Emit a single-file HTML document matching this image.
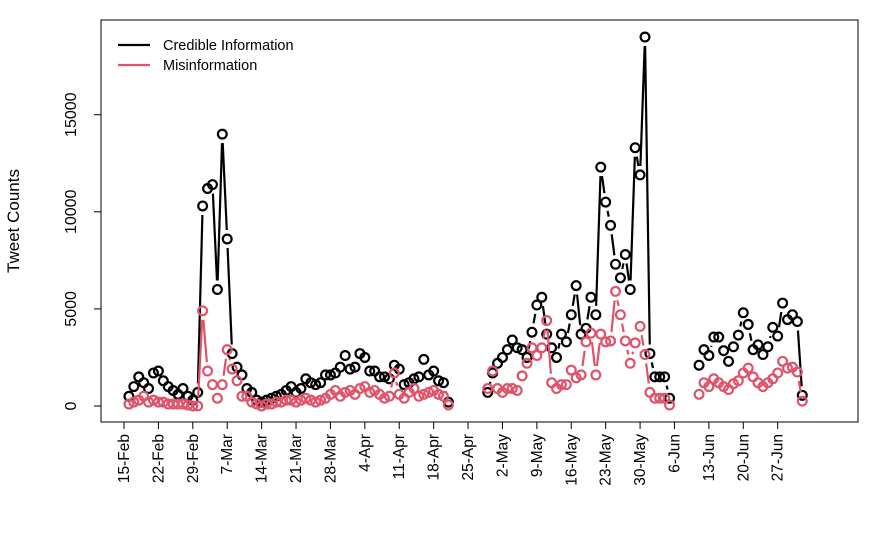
<!DOCTYPE html>
<html><head><meta charset="utf-8">
<style>
html,body{margin:0;padding:0;background:#fff;}
svg{display:block;font-family:"Liberation Sans",Arial,sans-serif;}
</style></head>
<body>
<svg id="chart" width="883" height="550" viewBox="0 0 883 550" xmlns="http://www.w3.org/2000/svg">
<rect x="101" y="20" width="757" height="402" fill="none" stroke="#000" stroke-width="1"/>
<g id="yaxis"></g>
<g id="xaxis"></g>
<text transform="translate(19,221) rotate(-90)" text-anchor="middle" font-size="17">Tweet Counts</text>
<g id="series"></g>
<g>
<g>
<line x1="118" y1="45" x2="150" y2="45" stroke="#000" stroke-width="2.2"/>
<text x="163" y="50" font-size="14.5">Credible Information</text></g>
<g>
<line x1="118" y1="65" x2="150" y2="65" stroke="#DF536B" stroke-width="2.2"/>
<text x="163" y="70" font-size="14.5">Misinformation</text></g>
</g>
</svg>
<script>
// Tick data
const yTicks = [0, 5000, 10000, 15000];
const xTickLabels = ["15-Feb","22-Feb","29-Feb","7-Mar","14-Mar","21-Mar","28-Mar","4-Apr","11-Apr","18-Apr","25-Apr","2-May","9-May","16-May","23-May","30-May","6-Jun","13-Jun","20-Jun","27-Jun"];
const xTickDays = [0,7,14,21,28,35,42,49,56,63,70,77,84,91,98,105,112,119,126,133];
// Segment start days (days since 15-Feb)
const segStarts = [1, 74, 117];
// Credible information series (per segment)
const credible1 = [500,1000,1500,1200,900,1700,1800,1300,1000,800,600,900,500,300,
 700,10300,11200,11400,6000,14000,8600,2700,2000,1600,900,700,300,200,300,400,500,600,800,1000,700,900,1400,1200,1100,1200,1600,1600,1700,2000,2600,
 1900,2000,2700,2500,1800,1800,1500,1500,1400,2100,1900,1100,1200,1400,1500,2400,1600,1800,1300,1200,200];
const credible2 = [700,1700,2200,2500,2900,3400,3000,2900,2500,3800,5200,5600,3700,3000,2500,3700,3300,4700,6200,3700,4000,5600,4700,12300,10500,9300,7300,6600,7800,6000,13300,11900,19000,2700,1500,1500,1500,400];
const credible3 = [2100,2900,2600,3550,3550,2850,2300,3050,3650,4800,4200,2900,3150,2650,3050,4050,3600,5300,4450,4700,4350,550];
// Misinformation series (per segment)
const misinfo1 = [100,200,300,500,200,300,200,200,100,100,100,100,50,0,
 0,4900,1800,1100,400,1100,2900,1900,1300,500,500,200,100,0,100,100,200,200,300,300,200,300,400,300,200,300,400,600,800,500,700,
 800,600,900,1000,700,800,600,400,500,1700,600,400,700,900,500,600,700,800,600,500,50];
const misinfo2 = [900,1800,900,700,900,900,800,1550,2200,3000,2600,3000,4400,1200,900,1100,1100,1850,1450,1600,3300,3750,1600,3700,3300,3350,5900,4700,3350,2200,3250,4100,2650,700,400,400,400,50];
const misinfo3 = [600,1200,1000,1400,1200,1000,850,1150,1300,1700,1950,1500,1200,1000,1200,1400,1700,2300,1950,2000,1750,250];

const NS = "http://www.w3.org/2000/svg";
const xOf = d => 124 + d * 4.915;
const yOf = v => 406 - v * 0.01942;

const ya = document.getElementById('yaxis');
const yl = document.createElementNS(NS,'line');
yl.setAttribute('x1',101);yl.setAttribute('x2',101);
yl.setAttribute('y1',yOf(yTicks[0]));yl.setAttribute('y2',yOf(yTicks[yTicks.length-1]));
yl.setAttribute('stroke','#000');
ya.appendChild(yl);
yTicks.forEach(t => {
  const y = yOf(t);
  const tk = document.createElementNS(NS,'line');
  
  
  tk.setAttribute('x1',94);tk.setAttribute('x2',101);tk.setAttribute('y1',y);tk.setAttribute('y2',y);tk.setAttribute('stroke','#000');
  ya.appendChild(tk);
  const tx = document.createElementNS(NS,'text');
  
  
  tx.setAttribute('transform',`translate(76,${y}) rotate(-90)`);
  tx.setAttribute('text-anchor','middle');tx.setAttribute('font-size','16');
  tx.textContent = t;
  ya.appendChild(tx);
});

const xa = document.getElementById('xaxis');
const xl = document.createElementNS(NS,'line');
xl.setAttribute('x1',xOf(xTickDays[0]));xl.setAttribute('x2',xOf(xTickDays[xTickDays.length-1]));
xl.setAttribute('y1',422);xl.setAttribute('y2',422);xl.setAttribute('stroke','#000');
xa.appendChild(xl);
xTickDays.forEach((d,i) => {
  const x = xOf(d);
  const tk = document.createElementNS(NS,'line');
  
  
  tk.setAttribute('x1',x);tk.setAttribute('x2',x);tk.setAttribute('y1',422);tk.setAttribute('y2',429);tk.setAttribute('stroke','#000');
  xa.appendChild(tk);
  const tx = document.createElementNS(NS,'text');
  
  
  tx.setAttribute('transform',`translate(${x+5},434) rotate(-90)`);
  tx.setAttribute('text-anchor','end');tx.setAttribute('font-size','15.5');
  tx.textContent = xTickLabels[i];
  xa.appendChild(tx);
});

const sg = document.getElementById('series');
function drawSeries(segs, color, name){
  const g = document.createElementNS(NS,'g');
  
  
  sg.appendChild(g);
  segs.forEach((vals, si) => {
    const pts = vals.map((v,i) => [xOf(segStarts[si]+i), yOf(v)]);
    for (let i=0;i<pts.length-1;i++){
      const [x1,y1]=pts[i],[x2,y2]=pts[i+1];
      const dx=x2-x1, dy=y2-y1, L=Math.hypot(dx,dy), gap=9;
      if (L<=2*gap) continue;
      const ux=dx/L, uy=dy/L;
      const ln=document.createElementNS(NS,'line');
      
      
      ln.setAttribute('x1',x1+ux*gap);ln.setAttribute('y1',y1+uy*gap);
      ln.setAttribute('x2',x2-ux*gap);ln.setAttribute('y2',y2-uy*gap);
      ln.setAttribute('stroke',color);ln.setAttribute('stroke-width','2.2');
      g.appendChild(ln);
    }
    pts.forEach(([x,y]) => {
      const c=document.createElementNS(NS,'circle');
      
      
      c.setAttribute('cx',x);c.setAttribute('cy',y);c.setAttribute('r','4.4');
      c.setAttribute('fill','none');c.setAttribute('stroke',color);c.setAttribute('stroke-width','2.2');
      g.appendChild(c);
    });
  });
}
drawSeries([credible1,credible2,credible3], '#000', 'credible-series');
drawSeries([misinfo1,misinfo2,misinfo3], '#DF536B', 'misinformation-series');
</script>
</body></html>
